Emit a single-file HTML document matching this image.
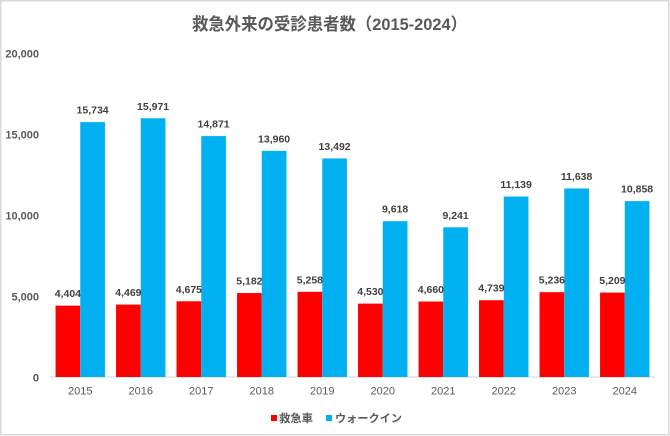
<!DOCTYPE html>
<html><head><meta charset="utf-8"><style>
html,body{margin:0;padding:0;background:#fff;}
svg{display:block;}
text{font-family:"Liberation Sans","Noto Sans CJK JP",sans-serif;}
</style></head><body>
<svg width="670" height="436" viewBox="0 0 670 436" xmlns="http://www.w3.org/2000/svg">
<rect x="0.75" y="0.75" width="668" height="434" fill="#fff" stroke="#D9D9D9" stroke-width="1.5"/>
<text x="192" y="30" font-size="17" font-weight="bold" fill="#595959" textLength="275" lengthAdjust="spacingAndGlyphs">救急外来の受診患者数（2015-2024）</text>
<g font-size="11" font-weight="bold" fill="#595959" text-anchor="end">
<text x="39" y="57.3">20,000</text>
<text x="39" y="138.3">15,000</text>
<text x="39" y="219.3">10,000</text>
<text x="39" y="300.3">5,000</text>
<text x="39" y="381.3">0</text>
</g>
<line x1="50" y1="377" x2="655" y2="377" stroke="#D9D9D9" stroke-width="1.2"/>
<g fill="#FF0000">
<rect x="55.55" y="305.65" width="24.7" height="71.35"/>
<rect x="116.05" y="304.60" width="24.7" height="72.40"/>
<rect x="176.55" y="301.27" width="24.7" height="75.73"/>
<rect x="237.05" y="293.05" width="24.7" height="83.95"/>
<rect x="297.55" y="291.82" width="24.7" height="85.18"/>
<rect x="358.05" y="303.61" width="24.7" height="73.39"/>
<rect x="418.55" y="301.51" width="24.7" height="75.49"/>
<rect x="479.05" y="300.23" width="24.7" height="76.77"/>
<rect x="539.55" y="292.18" width="24.7" height="84.82"/>
<rect x="600.05" y="292.61" width="24.7" height="84.39"/>
</g>
<g fill="#00B0F0">
<rect x="80.25" y="122.11" width="24.7" height="254.89"/>
<rect x="140.75" y="118.27" width="24.7" height="258.73"/>
<rect x="201.25" y="136.09" width="24.7" height="240.91"/>
<rect x="261.75" y="150.85" width="24.7" height="226.15"/>
<rect x="322.25" y="158.43" width="24.7" height="218.57"/>
<rect x="382.75" y="221.19" width="24.7" height="155.81"/>
<rect x="443.25" y="227.30" width="24.7" height="149.70"/>
<rect x="503.75" y="196.55" width="24.7" height="180.45"/>
<rect x="564.25" y="188.46" width="24.7" height="188.54"/>
<rect x="624.75" y="201.10" width="24.7" height="175.90"/>
</g>
<g font-size="10.5" font-weight="bold" fill="#404040" text-anchor="middle">
<text x="67.9" y="297.2">4,404</text>
<text x="128.4" y="296.1">4,469</text>
<text x="188.9" y="292.8">4,675</text>
<text x="249.4" y="284.6">5,182</text>
<text x="309.9" y="283.3">5,258</text>
<text x="370.4" y="295.1">4,530</text>
<text x="430.9" y="293.0">4,660</text>
<text x="491.4" y="291.7">4,739</text>
<text x="551.9" y="283.7">5,236</text>
<text x="612.4" y="284.1">5,209</text>
<text x="92.6" y="113.6">15,734</text>
<text x="153.1" y="109.8">15,971</text>
<text x="213.6" y="127.6">14,871</text>
<text x="274.1" y="142.4">13,960</text>
<text x="334.6" y="149.9">13,492</text>
<text x="395.1" y="212.7">9,618</text>
<text x="455.6" y="218.8">9,241</text>
<text x="516.1" y="188.1">11,139</text>
<text x="576.6" y="180.0">11,638</text>
<text x="637.1" y="192.6">10,858</text>
</g>
<g font-size="11" fill="#595959" text-anchor="middle">
<text x="80.25" y="394.7">2015</text>
<text x="140.75" y="394.7">2016</text>
<text x="201.25" y="394.7">2017</text>
<text x="261.75" y="394.7">2018</text>
<text x="322.25" y="394.7">2019</text>
<text x="382.75" y="394.7">2020</text>
<text x="443.25" y="394.7">2021</text>
<text x="503.75" y="394.7">2022</text>
<text x="564.25" y="394.7">2023</text>
<text x="624.75" y="394.7">2024</text>
</g>
<rect x="271" y="415" width="6" height="6" fill="#FF0000"/>
<text x="279" y="422" font-size="11" font-weight="bold" fill="#595959" textLength="34" lengthAdjust="spacingAndGlyphs">救急車</text>
<rect x="326" y="415" width="6" height="6" fill="#00B0F0"/>
<text x="335" y="422" font-size="11" font-weight="bold" fill="#595959" textLength="67" lengthAdjust="spacingAndGlyphs">ウォークイン</text>
</svg>
</body></html>
